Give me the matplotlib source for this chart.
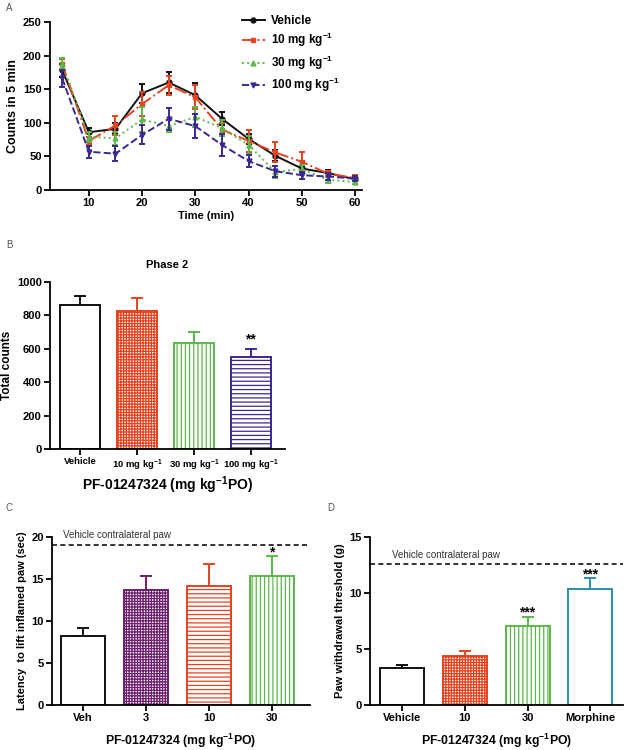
import matplotlib
matplotlib.use("Agg")
import matplotlib.pyplot as plt

plt.rcParams['font.family'] = ['Liberation Sans', 'DejaVu Sans']
plt.rcParams['font.weight'] = 'bold'
plt.rcParams['axes.labelweight'] = 'bold'
plt.rcParams['axes.titleweight'] = 'bold'
plt.rcParams['mathtext.fontset'] = 'custom'
plt.rcParams['mathtext.rm'] = 'Liberation Sans:bold'
plt.rcParams['mathtext.default'] = 'rm'
plt.rcParams['hatch.linewidth'] = 0.9

# ---- panel A: time course ----
time = [5, 10, 15, 20, 25, 30, 35, 40, 45, 50, 55, 60]
vehicle = [178, 86, 91, 144, 160, 141, 106, 76, 51, 32, 25, 16]
vehicle_err = [10, 7, 8, 14, 16, 18, 10, 8, 8, 5, 5, 3]
dose10 = [187, 73, 96, 128, 156, 138, 90, 73, 56, 42, 24, 18]
dose10_err = [8, 6, 14, 18, 14, 18, 10, 17, 15, 14, 5, 5]
dose30 = [188, 79, 77, 105, 95, 109, 92, 67, 27, 31, 15, 12]
dose30_err = [8, 8, 10, 18, 9, 15, 12, 13, 9, 6, 4, 3]
dose100 = [166, 57, 54, 82, 106, 95, 67, 43, 28, 22, 20, 17]
dose100_err = [12, 9, 11, 14, 16, 18, 17, 9, 8, 5, 5, 4]

# ---- panel B: phase 2 totals ----
b_labels = ['Vehicle', '10 mg kg$^{-1}$', '30 mg kg$^{-1}$', '100 mg kg$^{-1}$']
b_values = [861, 827, 632, 549]
b_err = [57, 79, 70, 51]

# ---- panel C: latency ----
c_labels = ['Veh', '3', '10', '30']
c_values = [8.2, 13.7, 14.2, 15.4]
c_err = [1.0, 1.6, 2.6, 2.3]
c_contra = 19.1

# ---- panel D: withdrawal threshold ----
d_labels = ['Vehicle', '10', '30', 'Morphine']
d_values = [3.3, 4.4, 7.05, 10.4]
d_err = [0.3, 0.4, 0.85, 0.9]
d_contra = 12.6

BLACK = '#111111'
RED = '#e8421e'
GREEN = '#5cb84a'
BLUE_PURPLE = '#3b2890'
PURPLE = '#6e1f6e'
TEAL = '#2a8db3'

W, H = 629, 750
fig = plt.figure(figsize=(W / 100, H / 100), dpi=100)


def px_axes(l, t, r, b):
    return fig.add_axes([l / W, 1 - b / H, (r - l) / W, (b - t) / H])


def style(ax):
    ax.spines['top'].set_visible(False)
    ax.spines['right'].set_visible(False)
    for s in ('left', 'bottom'):
        ax.spines[s].set_linewidth(1.3)
    ax.tick_params(direction='out', length=4, width=1.3, labelsize=8, pad=2)


def bars(ax, labels, values, err, colors, hatches):
    x = list(range(len(values)))
    for i in x:
        ax.bar(i, values[i], width=0.7, facecolor='white', edgecolor=colors[i],
               hatch=hatches[i], linewidth=1.4, zorder=2)
        ax.errorbar(i, values[i], yerr=[[0], [err[i]]], fmt='none',
                    ecolor=colors[i], elinewidth=1.4, capsize=4, capthick=1.4,
                    zorder=1)
    ax.set_xticks(x)
    ax.set_xticklabels(labels)


# panel A
axA = px_axes(50, 22, 362, 190)
style(axA)
series = [
    (vehicle, vehicle_err, BLACK, '-', 'o', 'Vehicle'),
    (dose10, dose10_err, RED, '-.', 's', '10 mg kg$^{-1}$'),
    (dose30, dose30_err, GREEN, ':', '^', '30 mg kg$^{-1}$'),
    (dose100, dose100_err, BLUE_PURPLE, '--', 'v', '100 mg kg$^{-1}$'),
]
for vals, errs, col, ls, mk, lab in series:
    axA.errorbar(time, vals, yerr=errs, fmt='none', ecolor=col,
                 elinewidth=1.4, capsize=2, capthick=1.4)
    axA.plot(time, vals, color=col, linestyle=ls, linewidth=1.4,
             marker=mk, markersize=3.5, label=lab)
axA.set_xlim(2.7, 61.3)
axA.set_ylim(0, 250)
axA.set_xticks([10, 20, 30, 40, 50, 60])
axA.set_yticks([0, 50, 100, 150, 200, 250])
axA.set_xlabel('Time (min)', fontsize=8, labelpad=2)
axA.set_ylabel('Counts in 5 min', fontsize=9, labelpad=3)
axA.legend(loc='upper left', bbox_to_anchor=(0.58, 1.105), frameon=False,
           fontsize=8.5, handlelength=2.0, handletextpad=0.5,
           labelspacing=0.35)

# panel B
axB = px_axes(50, 282, 285, 449)
style(axB)
bars(axB, b_labels, b_values, b_err, [BLACK, RED, GREEN, BLUE_PURPLE],
     ['', '++++++', '||||', '----'])
axB.set_xlim(-0.53, 3.6)
axB.set_ylim(0, 1000)
axB.set_yticks([0, 200, 400, 600, 800, 1000])
axB.tick_params(axis='x', labelsize=6.8)
axB.set_title('Phase 2', fontsize=8, pad=10)
axB.set_ylabel('Total counts', fontsize=8.5, labelpad=3)
axB.set_xlabel('PF-01247324 (mg kg$^{-1}$PO)', fontsize=10, labelpad=1)
axB.text(3, b_values[3] + b_err[3] + 30, '**', ha='center', va='baseline',
         fontsize=10)

# panel C
axC = px_axes(52, 537, 310, 705)
style(axC)
bars(axC, c_labels, c_values, c_err, [BLACK, PURPLE, RED, GREEN],
     ['', '++++++', '----', '||||'])
axC.set_xlim(-0.49, 3.6)
axC.set_ylim(0, 20)
axC.set_yticks([0, 5, 10, 15, 20])
axC.axhline(c_contra, color=BLACK, linestyle='--', linewidth=1.2,
            dashes=(3, 2), clip_on=False)
axC.text(-0.32, 20.2, 'Vehicle contralateral paw', fontsize=7,
         fontweight='normal', color='#333333', va='center', ha='left')
axC.text(3, c_values[3] + c_err[3], '*', ha='center', va='baseline',
         fontsize=10)
axC.set_ylabel('Latency  to lift inflamed paw (sec)', fontsize=8, labelpad=3)
axC.set_xlabel('PF-01247324 (mg kg$^{-1}$PO)', fontsize=8.8, labelpad=6)

# panel D
axD = px_axes(370, 537, 623, 705)
style(axD)
bars(axD, d_labels, d_values, d_err, [BLACK, RED, GREEN, TEAL],
     ['', '++++++', '||||', ''])
axD.set_xlim(-0.51, 3.52)
axD.set_ylim(0, 15)
axD.set_yticks([0, 5, 10, 15])
axD.axhline(d_contra, color=BLACK, linestyle='--', linewidth=1.2,
            dashes=(3, 2))
axD.text(-0.16, 13.4, 'Vehicle contralateral paw', fontsize=7,
         fontweight='normal', color='#333333', va='center', ha='left')
for i in (2, 3):
    axD.text(i, d_values[i] + d_err[i], '***', ha='center',
             va='baseline', fontsize=10)
axD.set_ylabel('Paw withdrawal threshold (g)', fontsize=8, labelpad=3)
axD.set_xlabel('PF-01247324 (mg kg$^{-1}$PO)', fontsize=8.8, labelpad=6)

# panel letters
for lab, x, y in [('A', 6, 8), ('B', 6, 245), ('C', 6, 508), ('D', 327, 508)]:
    fig.text(x / W, 1 - y / H, lab, fontsize=7, fontweight='normal',
             color='#555555', va='center', ha='left')

fig.savefig('out.png', dpi=100)
